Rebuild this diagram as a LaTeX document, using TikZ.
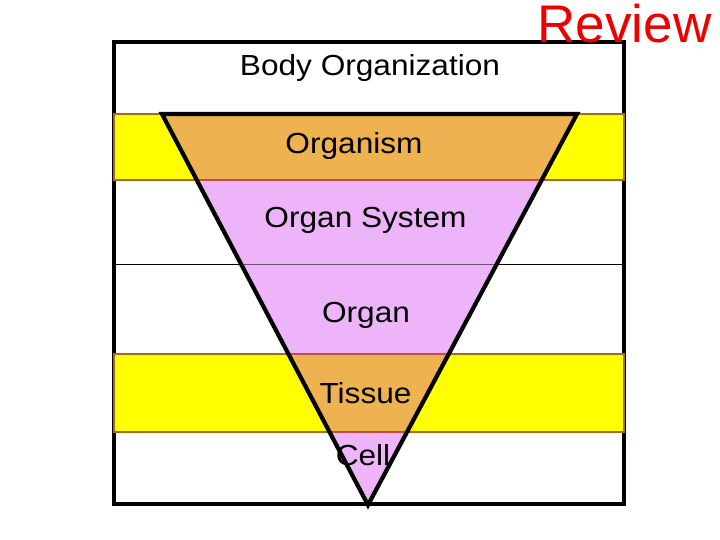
\documentclass[tikz,border=0pt]{standalone}
\usepackage{fontspec}
\setmainfont{Liberation Sans}
\definecolor{bandyellow}{RGB}{255,255,0}
\definecolor{bandbrown}{RGB}{170,104,24}
\definecolor{orangefill}{RGB}{238,178,80}
\definecolor{pinkfill}{RGB}{238,180,250}
\definecolor{redline}{RGB}{196,76,72}
\definecolor{reviewred}{RGB}{236,0,0}
\tikzset{
  lbl/.style={inner sep=0pt, anchor=base, font=\fontsize{29}{32}\selectfont, xscale=1.09},
  yband/.style={fill=bandyellow, draw=bandbrown, line width=2.6pt},
  frame/.style={draw=black, line width=3.6pt, fill=white},
  tri/.style={draw=black, line width=4.2pt, line join=miter},
  sepline/.style={draw=redline, line width=2.4pt}
}
\begin{document}
\begin{tikzpicture}[x=1pt,y=-1pt]
\useasboundingbox (0,0) rectangle (720,540);
% outer frame
\draw[frame] (114,42) rectangle (624,504);
% yellow bands
\draw[yband] (114,114) rectangle (624,180);
\draw[yband] (114,354) rectangle (624,432);
% thin line
\coordinate (tl) at (114,264);
\coordinate (tr) at (624,264);
\draw[black, line width=1pt] (tl) -- (tr);
% triangle
\coordinate (A) at (162,114);
\coordinate (B) at (577,114);
\coordinate (C) at (368,505);
\begin{scope}
  \clip (A) -- (B) -- (C) -- cycle;
  \fill[orangefill] (100,110) rectangle (640,180);
  \fill[pinkfill] (100,180) rectangle (640,354);
  \fill[orangefill] (100,354) rectangle (640,432);
  \fill[pinkfill] (100,432) rectangle (640,510);
  \draw[sepline] (100,180) -- (640,180);
  \draw[sepline] (100,354) -- (640,354);
  \draw[sepline] (100,432) -- (640,432);
  \draw[black!55!pinkfill, line width=1pt] (tl) -- (tr);
\end{scope}
\draw[tri] (A) -- (B) -- (C) -- cycle;
% labels
\node[lbl] (body) at (370,76) {Body Organization};
\node[lbl] (organism) at (354,154) {Organism};
\node[lbl] (system) at (365.5,227) {Organ System};
\node[lbl] (organ) at (366,322) {Organ};
\node[lbl] (tissue) at (365.5,403) {Tissue};
\node[lbl] (cell) at (363,465) {Cell};
\node[inner sep=0pt, anchor=base, text=reviewred, font=\fontsize{53}{56}\selectfont] (review) at (624.5,43) {Review};
\end{tikzpicture}
\end{document}
